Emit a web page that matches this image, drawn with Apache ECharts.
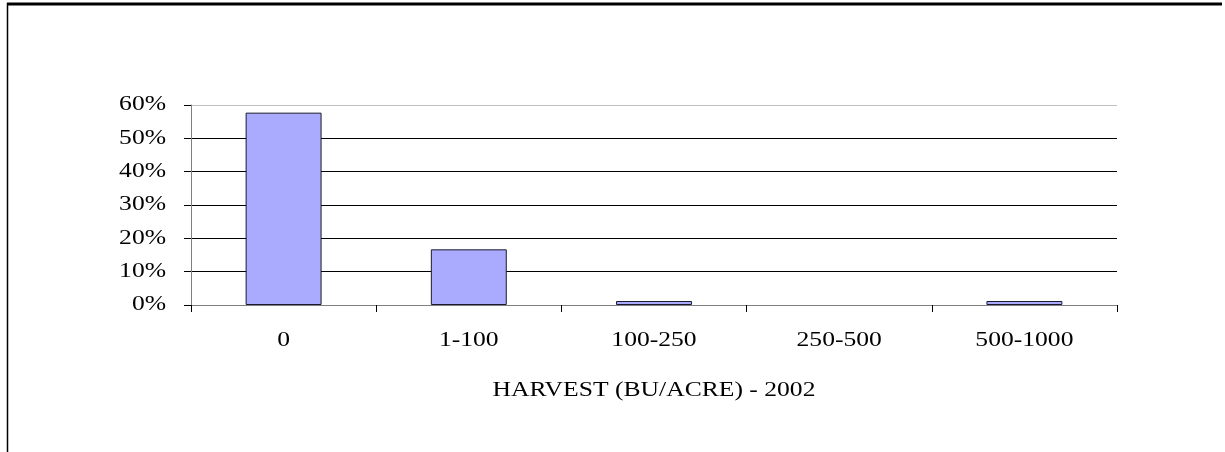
<!DOCTYPE html>
<html>
<head>
<meta charset="utf-8">
<style>
html,body{margin:0;padding:0;background:#fff;}
#chart{width:1225px;height:452px;}
</style>
<script src="https://cdn.jsdelivr.net/npm/echarts@6/dist/echarts.min.js"></script>
</head>
<body>
<div id="chart"></div>
<script>
const categories = ['0', '1-100', '100-250', '250-500', '500-1000'];
const shares = [57.7, 16.7, 1.2, 0, 1.2];
const yTicks = [0, 10, 20, 30, 40, 50, 60];
const xAxisTitle = 'HARVEST (BU/ACRE) - 2002';

const font = '20px "Liberation Serif", "Times New Roman", serif';
const stretch = 1.28;
const chart = echarts.init(document.getElementById('chart'), null, {renderer: 'canvas'});
chart.setOption({
  animation: false,
  backgroundColor: '#fff',
  grid: {left: 191, right: 108, top: 105, bottom: 147, containLabel: false},
  xAxis: {
    type: 'category',
    data: categories,
    boundaryGap: true,
    axisLine: {show: true, lineStyle: {color: '#808080', width: 1}},
    axisTick: {show: true, length: 7, lineStyle: {color: '#000'}},
    axisLabel: {show: false}
  },
  yAxis: {
    type: 'value',
    min: yTicks[0],
    max: yTicks[yTicks.length - 1],
    interval: 10,
    axisLine: {show: true, lineStyle: {color: '#808080', width: 1}},
    axisTick: {show: true, length: 7, lineStyle: {color: '#000'}},
    axisLabel: {show: false},
    splitLine: {show: true, lineStyle: {color: ['#808080', '#000', '#000', '#000', '#000', '#000', '#c0c0c0'], width: 1}}
  },
  series: [{
    type: 'bar',
    data: shares.map(v => (v === 0 ? null : v)),
    barCategoryGap: '59%',
    itemStyle: {color: '#aaaaff', borderColor: '#1a1a2e', borderWidth: 1}
  }]
});

// Tick labels and axis title, positioned through the chart's own scales,
// drawn horizontally stretched like the reference rendering.
const y0 = chart.convertToPixel({yAxisIndex: 0}, 0);
const xStart = chart.convertToPixel({xAxisIndex: 0}, categories[0]);
const xEnd = chart.convertToPixel({xAxisIndex: 0}, categories[categories.length - 1]);
const gridLeft = chart.getModel().getComponent('grid').coordinateSystem.getRect().x;
const labels = [];
categories.forEach(c => {
  labels.push({type: 'text', x: chart.convertToPixel({xAxisIndex: 0}, c), y: y0 + 36, scaleX: stretch,
    style: {text: c, font: font, fill: '#000', align: 'center', verticalAlign: 'middle'}});
});
yTicks.forEach(v => {
  labels.push({type: 'text', x: gridLeft - 25, y: chart.convertToPixel({yAxisIndex: 0}, v), scaleX: stretch,
    style: {text: v + '%', font: font, fill: '#000', align: 'right', verticalAlign: 'middle'}});
});
labels.push({type: 'text', x: (xStart + xEnd) / 2, y: y0 + 86, scaleX: stretch,
  style: {text: xAxisTitle, font: font, fill: '#000', align: 'center', verticalAlign: 'middle'}});
labels.push({type: 'line', shape: {x1: 7, y1: 4, x2: 1222, y2: 4}, style: {stroke: '#000', lineWidth: 3}});
labels.push({type: 'line', shape: {x1: 7.5, y1: 3, x2: 7.5, y2: 452}, style: {stroke: '#000', lineWidth: 1.5}});
chart.setOption({graphic: labels});
</script>
</body>
</html>
